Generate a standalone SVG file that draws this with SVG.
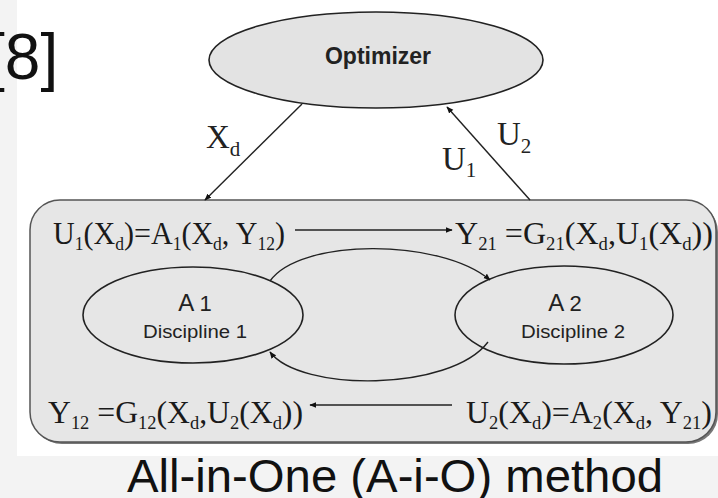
<svg xmlns="http://www.w3.org/2000/svg" width="718" height="498" viewBox="0 0 718 498">
<defs>
<marker id="ah" viewBox="0 0 10 10" refX="9" refY="5" markerWidth="7" markerHeight="7" markerUnits="userSpaceOnUse" orient="auto">
<path d="M0,1 L10,5 L0,9 Z" fill="#111"/>
</marker>
<style>
.m{font-family:"Liberation Serif","Times New Roman",serif;font-size:31px;fill:#1a1a1a}
.s{font-size:18px}
.lab{font-family:"Liberation Serif","Times New Roman",serif;font-size:33px;fill:#222}
.sans{font-family:"Liberation Sans",Arial,sans-serif;fill:#222}
.conn{stroke:#222;stroke-width:1.4;fill:none;marker-end:url(#ah)}
.ell{stroke:#222;stroke-width:1.6}
</style>
</defs>
<rect x="0" y="0" width="718" height="498" fill="#f3f3f3"/>
<rect x="17" y="0" width="701" height="456" fill="#ffffff"/>
<text x="-13" y="79" font-family="Liberation Sans, Arial, sans-serif" font-size="64" fill="#111">[8]</text>

<g id="system">
<rect x="32" y="202" width="686" height="242" rx="30" fill="#777"/>
<rect x="30" y="200" width="686" height="242" rx="30" fill="#e6e6e6" stroke="#555" stroke-width="1.5"/>
</g>

<g id="optimizer">
<ellipse cx="376" cy="60" rx="167" ry="48" fill="#e3e3e3" stroke="#222" stroke-width="1.6"/>
<text x="378" y="64" text-anchor="middle" class="sans" font-weight="bold" font-size="23">Optimizer</text>
</g>

<g id="A1">
<ellipse cx="193" cy="315" rx="110" ry="48" fill="#e6e6e6" class="ell"/>
<text x="195" y="311" text-anchor="middle" class="sans" font-size="24">A <tspan font-size="22">1</tspan></text>
<text x="195" y="338" text-anchor="middle" class="sans" font-size="18" textLength="104" lengthAdjust="spacingAndGlyphs">Discipline 1</text>
</g>

<g id="A2">
<ellipse cx="564" cy="315" rx="109" ry="49" fill="#e6e6e6" class="ell"/>
<text x="565" y="311" text-anchor="middle" class="sans" font-size="24">A <tspan font-size="22">2</tspan></text>
<text x="573" y="338" text-anchor="middle" class="sans" font-size="18" textLength="104" lengthAdjust="spacingAndGlyphs">Discipline 2</text>
</g>

<g id="eq-u1">
<text x="53" y="244" class="m" textLength="232" lengthAdjust="spacingAndGlyphs">U<tspan class="s" dy="6">1</tspan><tspan dy="-6">(X</tspan><tspan class="s" dy="6">d</tspan><tspan dy="-6">)=A</tspan><tspan class="s" dy="6">1</tspan><tspan dy="-6">(X</tspan><tspan class="s" dy="6">d</tspan><tspan dy="-6">, Y</tspan><tspan class="s" dy="6">12</tspan><tspan dy="-6">)</tspan></text>
</g>
<g id="eq-y21">
<text x="455" y="244" class="m" textLength="258" lengthAdjust="spacingAndGlyphs">Y<tspan class="s" dy="6">21</tspan><tspan dy="-6"> =G</tspan><tspan class="s" dy="6">21</tspan><tspan dy="-6">(X</tspan><tspan class="s" dy="6">d</tspan><tspan dy="-6">,U</tspan><tspan class="s" dy="6">1</tspan><tspan dy="-6">(X</tspan><tspan class="s" dy="6">d</tspan><tspan dy="-6">))</tspan></text>
</g>
<g id="eq-y12">
<text x="48" y="423" class="m" textLength="255" lengthAdjust="spacingAndGlyphs">Y<tspan class="s" dy="6">12</tspan><tspan dy="-6"> =G</tspan><tspan class="s" dy="6">12</tspan><tspan dy="-6">(X</tspan><tspan class="s" dy="6">d</tspan><tspan dy="-6">,U</tspan><tspan class="s" dy="6">2</tspan><tspan dy="-6">(X</tspan><tspan class="s" dy="6">d</tspan><tspan dy="-6">))</tspan></text>
</g>
<g id="eq-u2">
<text x="466" y="423" class="m" textLength="246" lengthAdjust="spacingAndGlyphs">U<tspan class="s" dy="6">2</tspan><tspan dy="-6">(X</tspan><tspan class="s" dy="6">d</tspan><tspan dy="-6">)=A</tspan><tspan class="s" dy="6">2</tspan><tspan dy="-6">(X</tspan><tspan class="s" dy="6">d</tspan><tspan dy="-6">, Y</tspan><tspan class="s" dy="6">21</tspan><tspan dy="-6">)</tspan></text>
</g>

<g id="connectors">
<line x1="302" y1="104" x2="205" y2="200" class="conn"/>
<line x1="530" y1="200" x2="447" y2="107" class="conn"/>
<line x1="295" y1="230" x2="452" y2="230" class="conn"/>
<line x1="452" y1="405" x2="310" y2="405" class="conn"/>
<path d="M270,281 C300,238 440,238 490,280" class="conn"/>
<path d="M488,342 C450,392 300,392 270,352" class="conn"/>
</g>

<g id="labels">
<text x="206" y="148" class="lab">X<tspan font-size="21" dy="8">d</tspan></text>
<text x="497" y="145" class="lab">U<tspan font-size="21" dy="8">2</tspan></text>
<text x="442" y="170" class="lab">U<tspan font-size="21" dy="7">1</tspan></text>
</g>

<text x="127" y="492" font-family="Liberation Sans, Arial, sans-serif" font-size="47" fill="#111" textLength="536" lengthAdjust="spacingAndGlyphs">All-in-One (A-i-O) method</text>
</svg>
